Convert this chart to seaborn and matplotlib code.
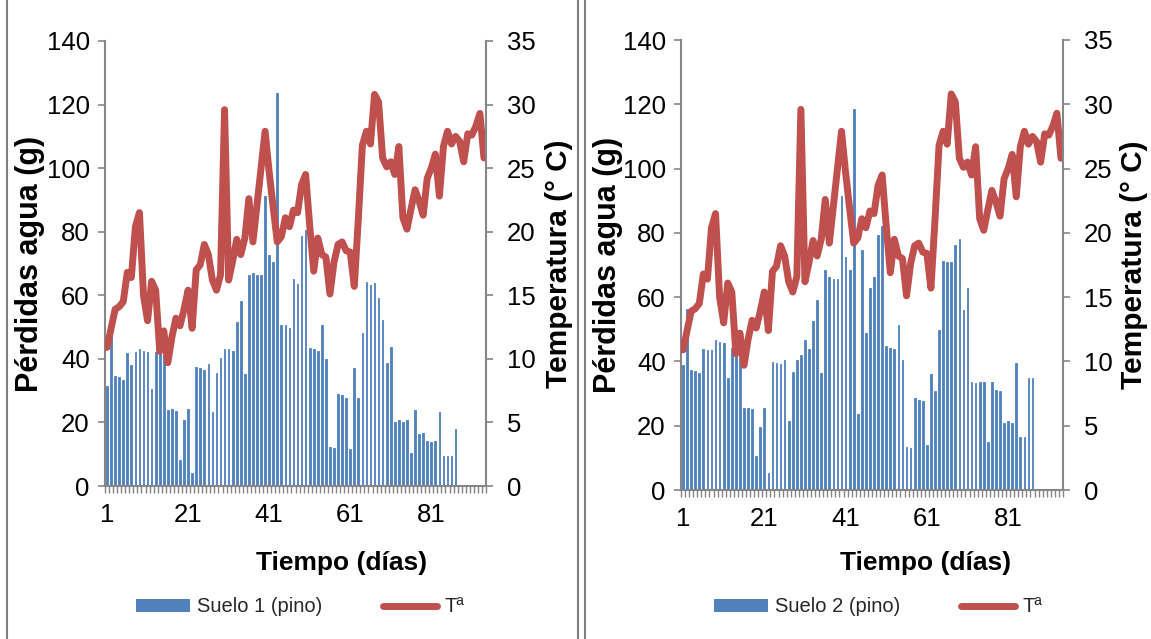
import numpy as np
import pandas as pd
import matplotlib
matplotlib.use("Agg")
import matplotlib.pyplot as plt
import seaborn as sns
from matplotlib.lines import Line2D
from matplotlib.patches import Patch

# ---------------- data ----------------
dias = list(range(1, 95))
x_tick_labels = ["1", "21", "41", "61", "81"]

temperatura = [10.9, 12.4, 13.9, 14.1, 14.5, 16.8, 16.4, 20.4, 21.5, 15.0,
               13.0, 16.1, 15.4, 10.6, 12.2, 9.7, 11.7, 13.2, 12.6, 13.9,
               15.4, 12.4, 17.0, 17.4, 19.0, 18.2, 16.2, 15.4, 16.6, 29.6,
               16.2, 17.7, 19.4, 18.2, 19.5, 22.6, 19.2, 22.1, 25.0, 27.9,
               24.7, 21.9, 19.2, 19.6, 21.1, 20.4, 21.7, 21.5, 23.7, 24.5,
               20.5, 16.9, 19.5, 18.2, 18.0, 15.1, 17.6, 19.0, 19.2, 18.5,
               18.4, 15.7, 21.0, 26.8, 27.9, 26.9, 30.8, 30.2, 25.8, 25.1,
               25.5, 24.5, 26.7, 21.1, 20.2, 21.8, 23.3, 22.4, 21.3, 24.2,
               25.0, 26.1, 22.8, 26.7, 27.9, 26.9, 27.5, 27.1, 25.5, 27.7,
               27.6, 28.3, 29.3, 25.8]

suelo1 = [31.4, 47.1, 34.5, 34.3, 33.5, 41.7, 38.2, 42.1, 43.2, 42.4,
          42.2, 30.4, 42.1, 42.1, 43.2, 23.9, 24.1, 23.7, 8.2, 20.9,
          24.1, 4.2, 37.4, 37.2, 36.6, 38.3, 23.2, 35.4, 40.3, 43.2,
          43.2, 42.6, 51.5, 58.1, 35.1, 66.5, 67.0, 66.3, 66.5, 91.3,
          72.8, 70.4, 123.5, 50.6, 50.5, 49.7, 65.1, 63.6, 78.5, 80.6,
          43.5, 43.2, 42.6, 50.5, 39.8, 12.4, 11.8, 28.8, 28.5, 27.7,
          11.7, 37.2, 27.7, 48.0, 64.1, 63.3, 63.9, 59.2, 52.1, 38.7,
          43.7, 20.2, 20.7, 20.2, 20.7, 10.3, 23.8, 16.4, 16.8, 14.3,
          13.8, 14.3, 23.2, 9.4, 9.4, 9.4, 17.8]

suelo2 = [38.8, 56.2, 37.3, 37.1, 36.5, 44.0, 43.5, 43.5, 46.8, 46.1,
          45.8, 35.0, 44.3, 44.3, 44.5, 25.6, 25.6, 25.1, 10.6, 19.7,
          25.6, 5.2, 39.7, 39.4, 39.2, 40.6, 21.5, 36.6, 40.4, 42.1,
          46.8, 44.0, 52.6, 59.1, 36.3, 68.4, 66.3, 65.8, 65.5, 91.4,
          72.5, 68.4, 118.6, 23.8, 74.6, 48.7, 62.7, 66.3, 79.3, 82.1,
          44.8, 44.3, 44.0, 51.2, 40.4, 13.3, 13.0, 28.7, 28.0, 27.8,
          14.0, 36.1, 30.8, 49.9, 71.4, 71.0, 71.0, 76.1, 78.2, 55.9,
          62.9, 33.6, 33.4, 33.7, 33.6, 15.0, 33.7, 31.1, 30.7, 21.0,
          21.4, 20.8, 39.4, 16.6, 16.6, 34.7, 34.7]

series_names = ["Suelo 1 (pino)", "Suelo 2 (pino)"]

# ---------------- style ----------------
sns.set_theme(style="white")
plt.rcParams['font.family'] = ['Liberation Sans', 'DejaVu Sans']

BLUE = "#4F81BD"
RED = "#C0504D"
GRAY = "#868686"

W, H = 1151, 639
fig = plt.figure(figsize=(W / 100, H / 100), dpi=100)
fig.patch.set_facecolor("white")

panels = [
    dict(rect=(105, 41, 486, 486), bars=suelo1, name=series_names[0],
         xlab=(0.622, -0.146), yl=-0.158, yr=1.154, legx=300),
    dict(rect=(681, 40, 1063, 490), bars=suelo2, name=series_names[1],
         xlab=(0.639, -0.136), yl=-0.151, yr=1.150, legx=878),
]

df_t = pd.DataFrame({"dia": dias, "T": temperatura})

for p in panels:
    x0, y0, x1, y1 = p["rect"]
    ax = fig.add_axes([x0 / W, 1 - y1 / H, (x1 - x0) / W, (y1 - y0) / H])
    df_b = pd.DataFrame({"dia": dias[:len(p["bars"])], "v": p["bars"]})
    sns.barplot(data=df_b, x="dia", y="v", native_scale=True, width=0.42,
                color=BLUE, saturation=1, ax=ax, zorder=2,
                edgecolor=BLUE, linewidth=0.6)
    ax.set_xlim(0.5, len(dias) + 0.5)
    ax.set_ylim(0, 140)
    ax.set_yticks(np.arange(0, 141, 20))
    ax.set_xticks([int(s) for s in x_tick_labels])
    ax.set_xticklabels(x_tick_labels)
    ax.set_xticks(np.arange(0.5, len(dias) + 1, 1), minor=True)
    for s in ["top", "right"]:
        ax.spines[s].set_visible(False)
    for s in ["left", "bottom"]:
        ax.spines[s].set_color(GRAY)
        ax.spines[s].set_linewidth(1.5)
    ax.tick_params(axis="y", which="major", direction="out", length=5,
                   width=1.2, color=GRAY, labelsize=18.5, pad=6, left=True,
                   labelcolor="black")
    ax.tick_params(axis="x", which="major", length=0, labelsize=18.5, pad=12,
                   bottom=True, labelcolor="black")
    ax.tick_params(axis="x", which="minor", direction="out", length=5,
                   width=1.0, color=GRAY, bottom=True)
    ax.set_xlabel("Tiempo (días)", fontsize=19, fontweight="bold",
                  color="black")
    ax.set_ylabel("Pérdidas agua (g)", fontsize=22, fontweight="bold",
                  color="black")
    ax.xaxis.set_label_coords(*p["xlab"])
    ax.yaxis.set_label_coords(p["yl"], 0.5)
    ax.grid(False)

    ax2 = ax.twinx()
    sns.lineplot(data=df_t, x="dia", y="T", color=RED, linewidth=5,
                 ax=ax2, solid_joinstyle="round", solid_capstyle="round")
    ax2.set_ylim(0, 35)
    ax2.set_yticks(np.arange(0, 36, 5))
    ax2.set_xlim(0.5, len(dias) + 0.5)
    for s in ["top", "left", "bottom"]:
        ax2.spines[s].set_visible(False)
    ax2.spines["right"].set_color(GRAY)
    ax2.spines["right"].set_linewidth(1.5)
    ax2.tick_params(axis="y", direction="out", length=5, width=1.2,
                    color=GRAY, labelsize=18.5, pad=10, right=True,
                    labelcolor="black")
    ax2.set_ylabel("Temperatura (° C)", fontsize=21.5, fontweight="bold",
                   color="black")
    ax2.yaxis.set_label_coords(p["yr"], 0.5)
    ax2.grid(False)

    handles = [Patch(facecolor=BLUE, edgecolor="none"),
               Line2D([0], [0], color=RED, lw=5, solid_capstyle="round")]
    fig.legend(handles, [p["name"], "Tª"], loc="center",
               bbox_to_anchor=(p["legx"] / W, 1 - 607 / H), ncol=2,
               frameon=False, fontsize=14.5, handlelength=2.7,
               handleheight=0.6, handletextpad=0.35, columnspacing=3.0)

# panel frame lines
for xpix in [7, 578, 585]:
    fig.add_artist(Line2D([xpix / W, xpix / W], [0, 1], color="#7F7F7F",
                          lw=1.5, transform=fig.transFigure))

fig.savefig("out.png", dpi=100, facecolor="white")
